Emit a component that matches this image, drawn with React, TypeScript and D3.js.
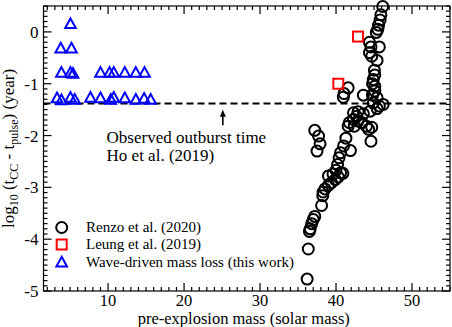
import { useEffect, useRef } from 'react';
import * as d3 from 'd3';

// Renzo et al. (2020): [pre-explosion mass, log10 time]
const renzo = [
  [46.15, 0.49], [45.9, 0.33], [45.8, 0.23], [45.6, 0.13], [45.5, 0.05], [45.3, -0.01],
  [44.4, -0.2], [44.6, -0.29], [45.7, -0.29], [44.4, -0.4], [44.7, -0.47], [45.4, -0.55],
  [45.05, -0.74], [45.1, -0.83], [44.9, -0.92], [44.8, -1.0], [45.1, -1.05], [45.1, -1.14],
  [43.6, -1.22], [44.8, -1.22], [45.4, -1.27], [44.9, -1.37], [46.2, -1.4], [45.7, -1.43],
  [41.6, -1.08], [41.05, -1.19], [40.96, -1.26], [42.9, -1.54], [42.3, -1.56],
  [45.4, -1.48], [44.5, -1.53], [43.6, -1.58], [42.7, -1.63], [42.3, -1.69], [41.75, -1.75],
  [42.9, -1.72], [41.6, -1.82], [42.4, -1.82], [43.4, -1.75], [44.0, -1.82], [44.3, -1.88],
  [44.7, -1.84], [44.6, -2.11], [41.3, -2.05], [41.0, -2.2], [41.9, -2.29], [40.6, -2.33],
  [40.4, -2.43], [40.2, -2.56], [40.0, -2.67], [40.6, -2.72], [39.6, -2.74], [39.0, -2.78],
  [37.2, -1.9], [37.7, -2.01], [37.9, -2.16], [37.5, -2.3],
  [40.9, -2.73], [40.3, -2.8], [39.9, -2.85], [39.4, -2.91], [39.0, -2.96], [38.55, -3.03],
  [38.3, -3.09], [38.25, -3.16], [38.1, -3.35], [37.2, -3.56], [37.0, -3.62], [36.8, -3.7],
  [36.6, -3.8], [36.5, -3.85], [36.35, -4.19], [36.2, -4.77],
];

// Leung et al. (2019)
const leung = [[42.9, -0.09], [40.3, -1.0]];

// Wave-driven mass loss (this work)
const wave = [
  [5.05, 0.16],
  [3.77, -0.31], [5.18, -0.31],
  [3.86, -0.78], [5.05, -0.78], [5.39, -0.8], [9.0, -0.78], [10.2, -0.78], [10.75, -0.78],
  [12.2, -0.78], [13.65, -0.78], [14.8, -0.78],
  [3.28, -1.27], [3.86, -1.31], [5.05, -1.26], [5.61, -1.3], [7.68, -1.26], [9.0, -1.27],
  [10.36, -1.3], [10.75, -1.26], [12.2, -1.27], [13.65, -1.3], [14.74, -1.28], [15.6, -1.3],
];

const observedLogT = -1.38;
const arrowMass = 25.1;
const arrowFrom = -1.8;
const arrowTo = -1.5;

const xTicks = [10, 20, 30, 40, 50];
const yTicks = [0, -1, -2, -3, -4, -5];
const legendLabels = ['Renzo et al. (2020)', 'Leung et al. (2019)', 'Wave-driven mass loss (this work)'];

const W = 452;
const H = 327;
const FONT = '"Liberation Serif", "Times New Roman", serif';
const TRI = 'M0,-5.2L5.3,4.5L-5.3,4.5Z';

const App = () => {
  const svgRef = useRef(null);

  useEffect(() => {
    const svg = d3.select(svgRef.current);
    svg.selectAll('*').remove();

    const margin = { top: 6, right: 2, bottom: 36, left: 43.5 };
    const x = d3.scaleLinear().domain([1.5, 55]).range([margin.left, W - margin.right]);
    const y = d3.scaleLinear().domain([-5, 0.5]).range([H - margin.bottom, margin.top]);
    const [x0, x1] = x.range();
    const [y0, y1] = y.range();

    const g = svg.append('g');

    // observed outburst line
    g.append('line')
      .attr('x1', x0).attr('x2', x1)
      .attr('y1', y(observedLogT)).attr('y2', y(observedLogT))
      .attr('stroke', '#000').attr('stroke-width', 2).attr('stroke-dasharray', '7,4');

    // data
    g.selectAll('.renzo').data(renzo).enter().append('circle')
      .attr('cx', (d) => x(d[0])).attr('cy', (d) => y(d[1])).attr('r', 5.5)
      .attr('fill', 'none').attr('stroke', '#000').attr('stroke-width', 2);

    g.selectAll('.leung').data(leung).enter().append('rect')
      .attr('x', (d) => x(d[0]) - 5).attr('y', (d) => y(d[1]) - 5)
      .attr('width', 10).attr('height', 10)
      .attr('fill', 'none').attr('stroke', '#ff0000').attr('stroke-width', 2);

    g.selectAll('.wave').data(wave).enter().append('path')
      .attr('d', TRI)
      .attr('transform', (d) => `translate(${x(d[0])},${y(d[1])})`)
      .attr('fill', 'none').attr('stroke', '#0000ff').attr('stroke-width', 2);

    // arrow
    const ax = x(arrowMass);
    g.append('line')
      .attr('x1', ax).attr('x2', ax).attr('y1', y(arrowFrom)).attr('y2', y(arrowTo) + 5)
      .attr('stroke', '#000').attr('stroke-width', 1.6);
    g.append('path')
      .attr('d', `M${ax},${y(arrowTo)}L${ax + 3},${y(arrowTo) + 7}L${ax - 3},${y(arrowTo) + 7}Z`)
      .attr('fill', '#000');

    const note = g.append('text').attr('font-family', FONT).attr('font-size', 17).attr('fill', '#000');
    note.append('tspan').attr('x', x(9.8)).attr('y', y(-2.14)).text('Observed outburst time');
    note.append('tspan').attr('x', x(9.8)).attr('y', y(-2.5)).text('Ho et al. (2019)');

    // frame and ticks
    const ax2 = svg.append('g').attr('stroke', '#000').attr('stroke-width', 1.2);
    ax2.append('rect')
      .attr('x', x0).attr('y', y1).attr('width', x1 - x0).attr('height', y0 - y1)
      .attr('fill', 'none');

    const xMinor = d3.range(2, 56, 1);
    xMinor.forEach((v) => {
      const len = v % 10 === 0 ? 8 : 4;
      ax2.append('line').attr('x1', x(v)).attr('x2', x(v)).attr('y1', y0).attr('y2', y0 - len);
      ax2.append('line').attr('x1', x(v)).attr('x2', x(v)).attr('y1', y1).attr('y2', y1 + len);
    });
    const yMinor = d3.range(-50, 6, 1).map((i) => i / 10);
    yMinor.forEach((v, i) => {
      const major = (i % 10) === 0;
      const len = major ? 8 : 4;
      ax2.append('line').attr('x1', x0).attr('x2', x0 + len).attr('y1', y(v)).attr('y2', y(v));
      ax2.append('line').attr('x1', x1).attr('x2', x1 - len).attr('y1', y(v)).attr('y2', y(v));
    });

    const labels = svg.append('g').attr('font-family', FONT).attr('fill', '#000');
    xTicks.forEach((v) => {
      labels.append('text').attr('x', x(v)).attr('y', y0 + 15).attr('font-size', 16.5)
        .attr('text-anchor', 'middle').text(v);
    });
    yTicks.forEach((v) => {
      labels.append('text').attr('x', x0 - 5).attr('y', y(v) + 6).attr('font-size', 17)
        .attr('text-anchor', 'end').text(v);
    });

    labels.append('text')
      .attr('x', (x0 + x1) / 2 - 3).attr('y', H - 3.5)
      .attr('font-size', 16.5)
      .attr('text-anchor', 'middle')
      .text('pre-explosion mass (solar mass)');

    const yl = labels.append('text')
      .attr('font-size', 17)
      .attr('transform', `translate(14,${(y0 + y1) / 2}) rotate(-90)`)
      .attr('text-anchor', 'middle');
    yl.append('tspan').text('log');
    yl.append('tspan').attr('font-size', 12).attr('dy', 4).text('10');
    yl.append('tspan').attr('dy', -4).text(' (t');
    yl.append('tspan').attr('font-size', 12).attr('dy', 4).text('CC');
    yl.append('tspan').attr('dy', -4).text(' - t');
    yl.append('tspan').attr('font-size', 12).attr('dy', 4).text('pulse');
    yl.append('tspan').attr('dy', -4).text(') (year)');

    // legend
    const leg = svg.append('g');
    const lx = 61.7;
    const rows = [227.5, 244.5, 262];
    leg.append('circle').attr('cx', lx).attr('cy', rows[0]).attr('r', 5.5)
      .attr('fill', 'none').attr('stroke', '#000').attr('stroke-width', 2);
    leg.append('rect').attr('x', lx - 5).attr('y', rows[1] - 5).attr('width', 10).attr('height', 10)
      .attr('fill', 'none').attr('stroke', '#ff0000').attr('stroke-width', 2);
    leg.append('path').attr('d', TRI).attr('transform', `translate(${lx},${rows[2]})`)
      .attr('fill', 'none').attr('stroke', '#0000ff').attr('stroke-width', 2);
    legendLabels.forEach((t, i) => {
      leg.append('text').attr('x', 86).attr('y', rows[i] + 4.5)
        .attr('font-family', FONT).attr('font-size', 15).attr('fill', '#000').text(t);
    });
  }, []);

  return (
    <svg
      ref={svgRef}
      width={W}
      height={H}
      style={{ position: 'absolute', left: 0, top: 0, background: '#fff' }}
    ></svg>
  );
};

export default App;
